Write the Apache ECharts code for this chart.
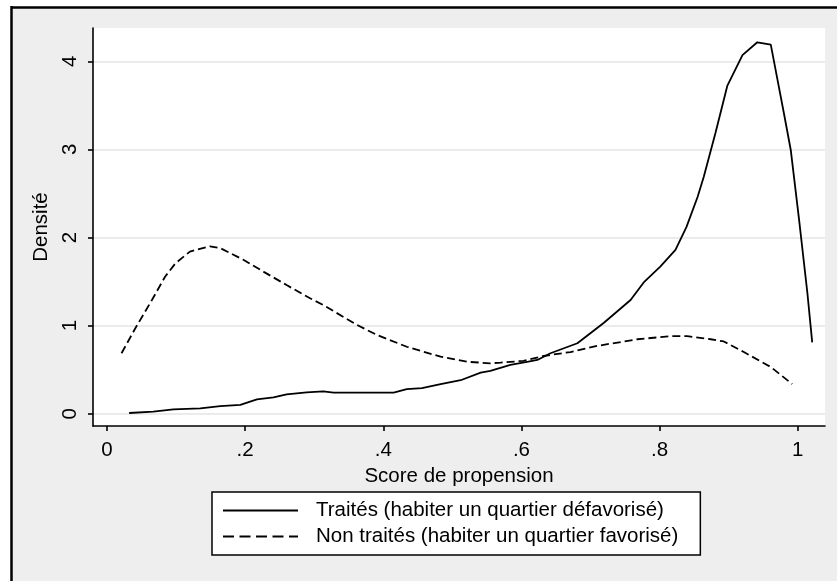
<!DOCTYPE html>
<html>
<head>
<meta charset="utf-8">
<script src="https://cdn.jsdelivr.net/npm/echarts@6/dist/echarts.min.js"></script>
<style>
  html, body { margin: 0; padding: 0; background: #ffffff; }
  #main { width: 837px; height: 581px; }
</style>
</head>
<body>
<div id="main"></div>
<script>
// ---- Data ----
const traitesName = 'Traités (habiter un quartier défavorisé)';
const nonTraitesName = 'Non traités (habiter un quartier favorisé)';

const traitesX = [0.032,0.067,0.096,0.135,0.164,0.193,0.217,0.241,0.260,0.289,0.313,0.328,0.360,0.415,0.434,0.456,0.483,0.512,0.541,0.555,0.584,0.610,0.623,0.642,0.681,0.719,0.758,0.777,0.801,0.823,0.839,0.855,0.864,0.881,0.898,0.920,0.9415,0.961,0.980,0.990,1.002,1.014,1.021];
const traitesY = [0.008,0.023,0.05,0.06,0.087,0.10,0.163,0.186,0.22,0.243,0.254,0.24,0.24,0.24,0.28,0.29,0.337,0.38,0.466,0.485,0.553,0.59,0.61,0.686,0.80,1.03,1.29,1.49,1.67,1.86,2.12,2.46,2.69,3.19,3.72,4.07,4.216,4.19,3.41,2.99,2.20,1.37,0.81];

const nonTraitesX = [0.021,0.041,0.065,0.084,0.099,0.120,0.149,0.164,0.198,0.227,0.260,0.294,0.313,0.362,0.391,0.434,0.483,0.521,0.555,0.570,0.603,0.632,0.671,0.710,0.768,0.816,0.840,0.874,0.893,0.922,0.961,0.992];
const nonTraitesY = [0.686,0.97,1.29,1.555,1.707,1.84,1.90,1.88,1.745,1.61,1.46,1.31,1.234,1.007,0.893,0.76,0.647,0.59,0.572,0.58,0.60,0.655,0.70,0.77,0.845,0.88,0.88,0.845,0.82,0.70,0.53,0.337];

const xTickValues = [0, 0.2, 0.4, 0.6, 0.8, 1];
const xTickLabels = ['0', '.2', '.4', '.6', '.8', '1'];
const yTickValues = [0, 1, 2, 3, 4];
const yTickLabels = ['0', '1', '2', '3', '4'];

const xAxisName = 'Score de propension';
const yAxisName = 'Densité';

// ---- Chart ----
const FONT = 'Arial, "Liberation Sans", sans-serif';
const FS = 20.5;
const zip = (xs, ys) => xs.map((x, i) => [x, ys[i]]);

const chart = echarts.init(document.getElementById('main'), null, { renderer: 'canvas' });

const option = {
  animation: false,
  backgroundColor: '#ffffff',
  textStyle: { fontFamily: FONT },
  graphic: [
    { type: 'rect', z: -100, silent: true, shape: { x: 11, y: 7, width: 830, height: 580 }, style: { fill: '#eeeeee' } },
    { type: 'line', z: -99, silent: true, shape: { x1: 11, y1: 7.5, x2: 840, y2: 7.5 }, style: { stroke: '#000', lineWidth: 2.5 } },
    { type: 'line', z: -99, silent: true, shape: { x1: 11.5, y1: 6, x2: 11.5, y2: 590 }, style: { stroke: '#000', lineWidth: 2.5 } }
  ],
  grid: {
    left: 93, top: 28, width: 732, height: 398,
    show: true, backgroundColor: '#ffffff', borderWidth: 0
  },
  xAxis: {
    type: 'value',
    min: -0.0203, max: 1.0395,
    name: xAxisName,
    nameLocation: 'middle',
    nameGap: 31,
    nameTextStyle: { fontFamily: FONT, fontSize: FS, color: '#000' },
    axisLine: { show: true, onZero: false, lineStyle: { color: '#000', width: 1.6 } },
    axisTick: { show: true, inside: false, length: 5, customValues: xTickValues, lineStyle: { color: '#000', width: 1.6 } },
    axisLabel: {
      show: true, margin: 14, fontFamily: FONT, fontSize: FS, color: '#000',
      customValues: xTickValues,
      formatter: v => { const i = xTickValues.findIndex(t => Math.abs(t - v) < 1e-9); return i >= 0 ? xTickLabels[i] : ''; }
    },
    splitLine: { show: false }
  },
  yAxis: {
    type: 'value',
    min: -0.1396, max: 4.378,
    name: yAxisName,
    nameLocation: 'middle',
    nameGap: 32,
    nameRotate: 90,
    nameTextStyle: { fontFamily: FONT, fontSize: FS, color: '#000' },
    axisLine: { show: true, onZero: false, lineStyle: { color: '#000', width: 1.6 } },
    axisTick: { show: true, inside: false, length: 5, customValues: yTickValues, lineStyle: { color: '#000', width: 1.6 } },
    axisLabel: {
      show: true, margin: 12, rotate: 90, fontFamily: FONT, fontSize: FS, color: '#000',
      customValues: yTickValues,
      formatter: v => { const i = yTickValues.findIndex(t => Math.abs(t - v) < 1e-9); return i >= 0 ? yTickLabels[i] : ''; }
    },
    splitLine: { show: true, lineStyle: { color: '#e4e4e4', width: 1.5 } }
  },
  legend: {
    orient: 'vertical',
    left: 212, top: 492,
    padding: [7, 22, 7, 10],
    itemGap: 3,
    itemWidth: 75,
    itemHeight: 14,
    backgroundColor: '#ffffff',
    borderColor: '#000',
    borderWidth: 1.5,
    borderRadius: 0,
    itemStyle: { opacity: 0 },
    textStyle: { fontFamily: FONT, fontSize: FS, color: '#000', lineHeight: 23, padding: [0, 0, 0, 13] },
    data: [
      { name: traitesName },
      { name: nonTraitesName, lineStyle: { type: [11, 5.5] } }
    ]
  },
  series: [
    {
      name: traitesName,
      type: 'line',
      data: zip(traitesX, traitesY),
      symbol: 'none',
      smooth: false,
      clip: false,
      lineStyle: { color: '#000', width: 1.8, type: 'solid' },
      itemStyle: { color: '#000' }
    },
    {
      name: nonTraitesName,
      type: 'line',
      data: zip(nonTraitesX, nonTraitesY),
      symbol: 'none',
      smooth: false,
      clip: false,
      lineStyle: { color: '#000', width: 1.8, type: [8, 4] },
      itemStyle: { color: '#000' }
    }
  ]
};

chart.setOption(option);
</script>
</body>
</html>
